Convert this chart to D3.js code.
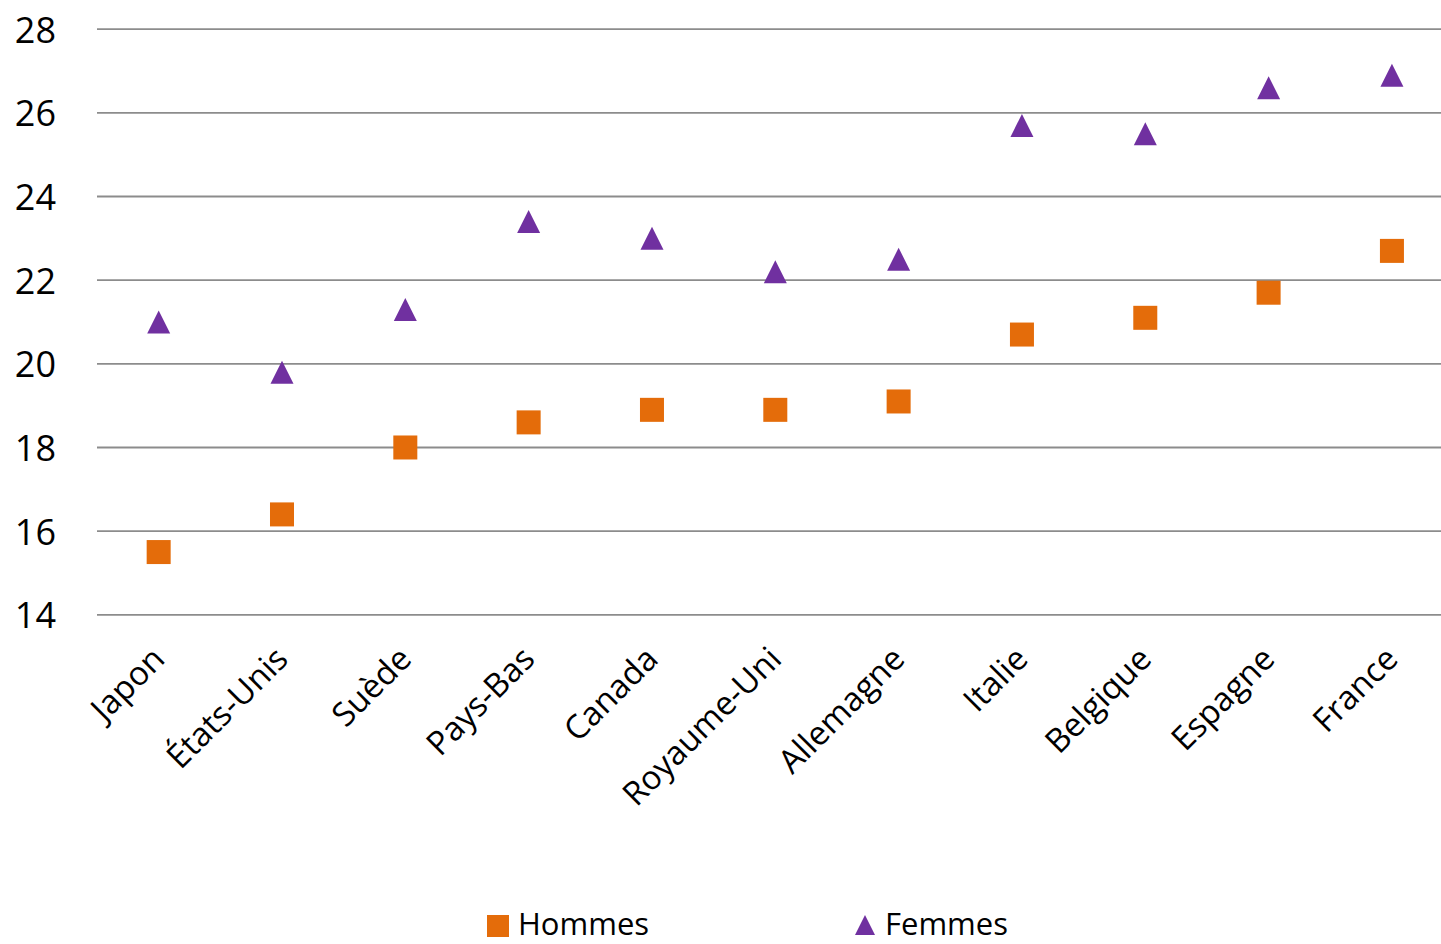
<!DOCTYPE html>
<html>
<head>
<meta charset="utf-8">
<script src="https://cdn.jsdelivr.net/npm/d3@7"></script>
<style>
  html, body { margin: 0; padding: 0; background: #fff; }
  svg { display: block; font-family: "Open Sans", sans-serif; }
</style>
</head>
<body>
<svg id="chart" width="1441" height="944"></svg>
<script>
const categories = ["Japon", "États-Unis", "Suède", "Pays-Bas", "Canada", "Royaume-Uni", "Allemagne", "Italie", "Belgique", "Espagne", "France"];
const hommes = [15.5, 16.4, 18.0, 18.6, 18.9, 18.9, 19.1, 20.7, 21.1, 21.7, 22.7];
const femmes = [21.0, 19.8, 21.3, 23.4, 23.0, 22.2, 22.5, 25.7, 25.5, 26.6, 26.9];
const yTicks = [14, 16, 18, 20, 22, 24, 26, 28];
const seriesNames = ["Hommes", "Femmes"];

const colHommes = "#E46C0A";
const colFemmes = "#7030A0";

const svg = d3.select("#chart");

const x = d3.scalePoint().domain(categories).range([97, 1453.6]).padding(0.5);
const y = d3.scaleLinear().domain([14, 28]).range([614.8, 29.2]);

// gridlines
svg.append("g").selectAll("line").data(yTicks).join("line")
  .attr("x1", 97).attr("x2", 1453.6)
  .attr("y1", d => y(d)).attr("y2", d => y(d))
  .attr("stroke", "#8c8c8c").attr("stroke-width", 1.8);

// y tick labels
svg.append("g").selectAll("text").data(yTicks).join("text")
  .attr("x", 56).attr("y", d => y(d))
  .attr("text-anchor", "end").attr("dominant-baseline", "central")
  .attr("font-size", 36).attr("fill", "#000")
  .text(d => d);

// category labels
svg.append("g").selectAll("text").data(categories).join("text")
  .attr("transform", d => `translate(${x(d) + 8},${661}) rotate(-45)`)
  .attr("text-anchor", "end")
  .attr("font-size", 33).attr("fill", "#000")
  .text(d => d);

// squares (Hommes)
const sq = 24;
svg.append("g").selectAll("rect").data(hommes).join("rect")
  .attr("x", (d, i) => x(categories[i]) - sq / 2)
  .attr("y", d => y(d) - sq / 2)
  .attr("width", sq).attr("height", sq)
  .attr("fill", colHommes);

// triangles (Femmes)
const tri = 11.5;
const triPath = `M0,${-tri}L${tri},${tri}L${-tri},${tri}Z`;
svg.append("g").selectAll("path").data(femmes).join("path")
  .attr("transform", (d, i) => `translate(${x(categories[i])},${y(d)})`)
  .attr("d", triPath)
  .attr("fill", colFemmes);

// legend
const lg = svg.append("g");
lg.append("rect").attr("x", 487).attr("y", 915).attr("width", 22).attr("height", 22).attr("fill", colHommes);
lg.append("text").attr("x", 518).attr("y", 935).attr("font-size", 31).attr("fill", "#000").text(seriesNames[0]);
lg.append("path").attr("transform", "translate(865,925)").attr("d", "M0,-10L10,10L-10,10Z").attr("fill", colFemmes);
lg.append("text").attr("x", 885).attr("y", 935).attr("font-size", 31).attr("fill", "#000").text(seriesNames[1]);
</script>
</body>
</html>
